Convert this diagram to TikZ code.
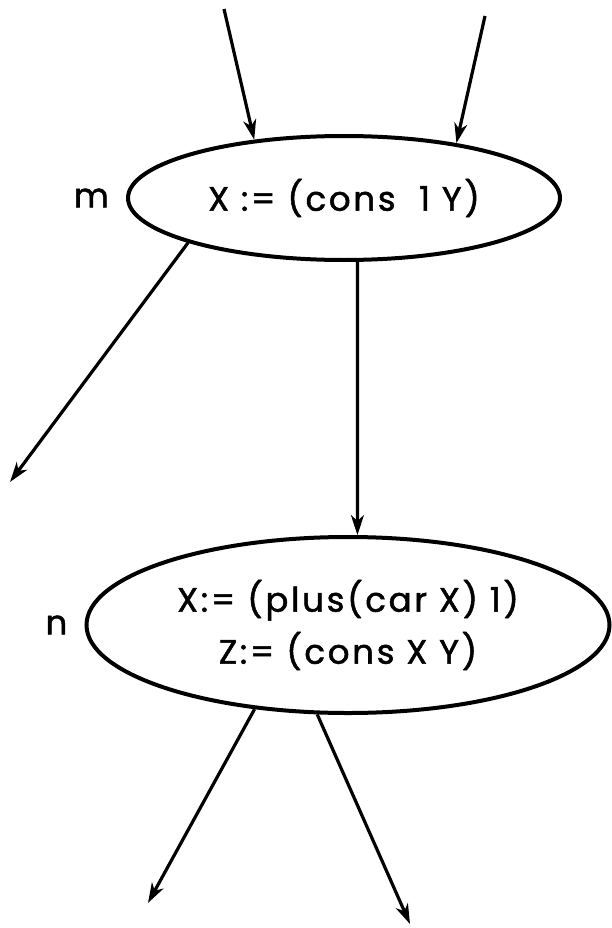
\documentclass[tikz,border=0pt]{standalone}
\usepackage{fontspec}
\setmainfont{Poppins}[LetterSpace=8,FakeBold=1.5]
\usetikzlibrary{arrows.meta,positioning,shapes.geometric}

\begin{document}
\begin{tikzpicture}[x=1pt,y=-1pt,>={Stealth[length=20pt,width=13pt,inset=6pt]},every node/.style={font=\fontsize{34}{52}\selectfont},stmt/.style={draw,ellipse,line width=4pt,inner sep=0pt,align=center},flow/.style={->,line width=3.2pt},lbl/.style={inner sep=0pt}]
\useasboundingbox (0,0) rectangle (611,928);
\node[stmt,minimum width=432pt,minimum height=124pt] (assignM) at (344,198) {X := (cons\ \ 1 Y)};
\node[stmt,minimum width=523pt,minimum height=176pt] (assignN) at (348,625) {X:= (plus(car X) 1)\\Z:= (cons X Y)};
\node[lbl,left=17pt of assignM] (labelM) {m};
\node[lbl,left=17pt of assignN] (labelN) {n};
\coordinate (inA) at (224,9);
\coordinate (inB) at (485,16);
\coordinate (outM) at (10,482);
\coordinate (outA) at (148,903);
\coordinate (outB) at (410,924);
\draw[flow] (inA)--(assignM.147.5);
\draw[flow] (inB)--(assignM.26);
\draw[flow] (assignM.196)--(outM);
\draw[flow] (assignM.-78)--(assignN.84);
\draw[flow] (assignN.222)--(outA);
\draw[flow] (assignN.251)--(outB);
\end{tikzpicture}
\end{document}
